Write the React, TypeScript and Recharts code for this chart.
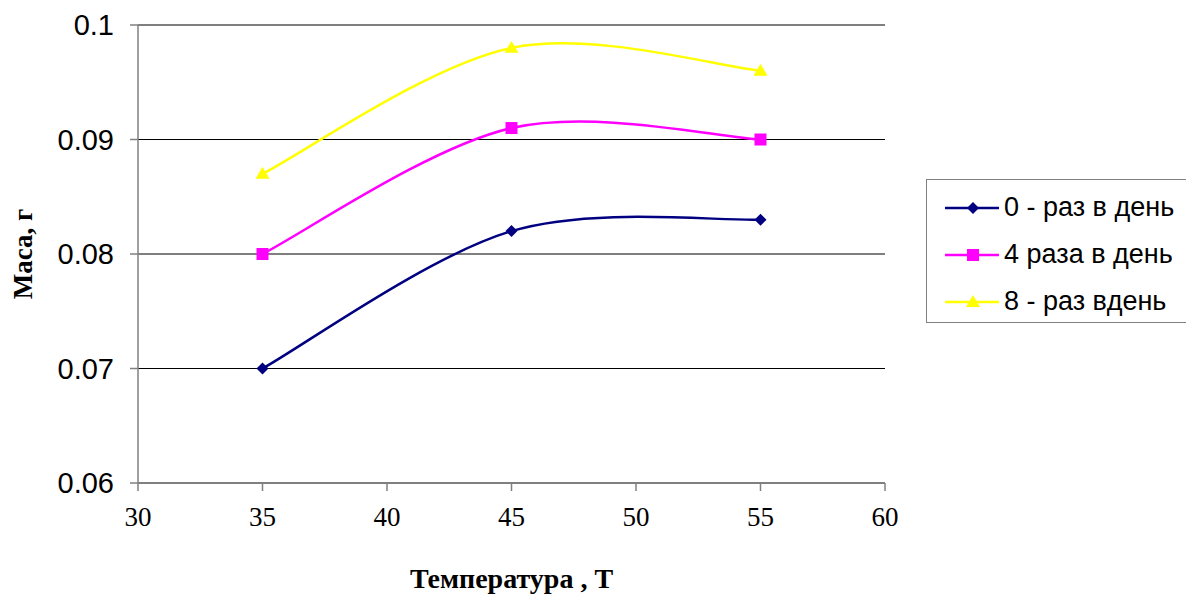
import { CartesianGrid, Line, LineChart, XAxis, YAxis } from 'recharts'

const temps = [35, 45, 55]
const zeroPerDay = [0.07, 0.082, 0.083]
const fourPerDay = [0.08, 0.091, 0.09]
const eightPerDay = [0.087, 0.098, 0.096]
const xTicks = [30, 35, 40, 45, 50, 55, 60]
const yTicks = [0.06, 0.07, 0.08, 0.09, 0.1]

const series = [
  { key: 'zero', name: '0 - раз в день', color: '#000080', shape: 'diamond' },
  { key: 'four', name: '4 раза в день', color: '#FF00FF', shape: 'square' },
  { key: 'eight', name: '8 - раз вдень', color: '#FFFF00', shape: 'triangle' },
]

const data = temps.map((t, i) => ({
  t,
  zero: zeroPerDay[i],
  four: fourPerDay[i],
  eight: eightPerDay[i],
}))

const SERIF = 'Liberation Serif'
const SANS = 'Liberation Sans'

// Excel-style smoothed line (Catmull-Rom through the points)
const excelCurve = (context: any) => {
  let pts: [number, number][] = []
  return {
    areaStart() {},
    areaEnd() {},
    lineStart() {
      pts = []
    },
    lineEnd() {
      if (!pts.length) return
      context.moveTo(pts[0][0], pts[0][1])
      for (let i = 0; i < pts.length - 1; i++) {
        const p0 = pts[i - 1] ?? pts[i]
        const p1 = pts[i]
        const p2 = pts[i + 1]
        const p3 = pts[i + 2] ?? p2
        context.bezierCurveTo(
          p1[0] + (p2[0] - p0[0]) / 6,
          p1[1] + (p2[1] - p0[1]) / 6,
          p2[0] - (p3[0] - p1[0]) / 6,
          p2[1] - (p3[1] - p1[1]) / 6,
          p2[0],
          p2[1],
        )
      }
    },
    point(x: number, y: number) {
      pts.push([+x, +y])
    },
  }
}

function Marker({ cx, cy, shape, color }: { cx: number; cy: number; shape: string; color: string }) {
  if (shape === 'diamond') {
    const r = 6
    return <polygon points={`${cx},${cy - r} ${cx + r},${cy} ${cx},${cy + r} ${cx - r},${cy}`} fill={color} />
  }
  if (shape === 'square') {
    const r = 6
    return <rect x={cx - r} y={cy - r} width={r * 2} height={r * 2} fill={color} />
  }
  const r = 7
  return <polygon points={`${cx},${cy - r} ${cx + r},${cy + r * 0.7} ${cx - r},${cy + r * 0.7}`} fill={color} />
}

function LegendBox() {
  return (
    <div
      style={{
        position: 'absolute',
        left: 918,
        top: 171,
        width: 268,
        height: 144,
        border: '1px solid #808080',
        borderRight: 'none',
        boxSizing: 'border-box',
        paddingTop: 4,
        fontFamily: SANS,
        fontSize: 27,
        color: '#000',
        overflow: 'hidden',
      }}
    >
      {series.map((s) => (
        <div key={s.key} style={{ display: 'flex', alignItems: 'center', height: 47 }}>
          <svg width={77} height={20} style={{ flex: 'none' }}>
            <line x1={18} y1={10} x2={72} y2={10} stroke={s.color} strokeWidth={2.5} />
            <Marker cx={46} cy={10} shape={s.shape} color={s.color} />
          </svg>
          <span style={{ whiteSpace: 'nowrap' }}>{s.name}</span>
        </div>
      ))}
    </div>
  )
}

const XTick = (props: any) => {
  const { x, y, payload } = props
  return (
    <text
      x={x}
      y={y + 33}
      textAnchor="middle"
      fill="#000"
      style={{ fontFamily: SERIF, fontSize: 27, fontWeight: 'normal' }}
    >
      {payload.value}
    </text>
  )
}

export default function App() {
  return (
    <div style={{ position: 'relative', width: 1186, height: 590 }}>
      <LineChart
        width={1186}
        height={590}
        data={data}
        margin={{ top: 17, right: 309, left: 0, bottom: 0 }}
      >
        <CartesianGrid vertical={false} stroke="#000" strokeWidth={1} />
        <XAxis
          dataKey="t"
          type="number"
          domain={[30, 60]}
          ticks={xTicks}
          height={115}
          tickSize={8}
          stroke="#808080"
          strokeWidth={1.5}
          tick={XTick}
          label={{
            value: 'Температура , Т',
            position: 'insideBottom',
            offset: 10,
            fontFamily: SERIF,
            fontWeight: 'bold',
            fontSize: 28,
            fill: '#000',
          }}
        />
        <YAxis
          type="number"
          domain={[0.06, 0.1]}
          ticks={yTicks}
          width={130}
          tickSize={8}
          tickMargin={16}
          stroke="#808080"
          strokeWidth={1.5}
          tickFormatter={(v) => String(+Number(v).toFixed(2))}
          tick={{ fontFamily: SANS, fontSize: 29, fill: '#000' }}
          label={{
            value: 'Маса, г',
            angle: -90,
            position: 'insideLeft',
            offset: 14,
            style: { textAnchor: 'middle' },
            fontFamily: SERIF,
            fontWeight: 'bold',
            fontSize: 27,
            fill: '#000',
          }}
        />
        {series.map((s) => (
          <Line
            key={s.key}
            dataKey={s.key}
            name={s.name}
            type={excelCurve as any}
            stroke={s.color}
            strokeWidth={2.5}
            isAnimationActive={false}
            dot={(p: any) => <Marker key={p.index} cx={p.cx} cy={p.cy} shape={s.shape} color={s.color} />}
            activeDot={false}
          />
        ))}
      </LineChart>
      <LegendBox />
    </div>
  )
}
